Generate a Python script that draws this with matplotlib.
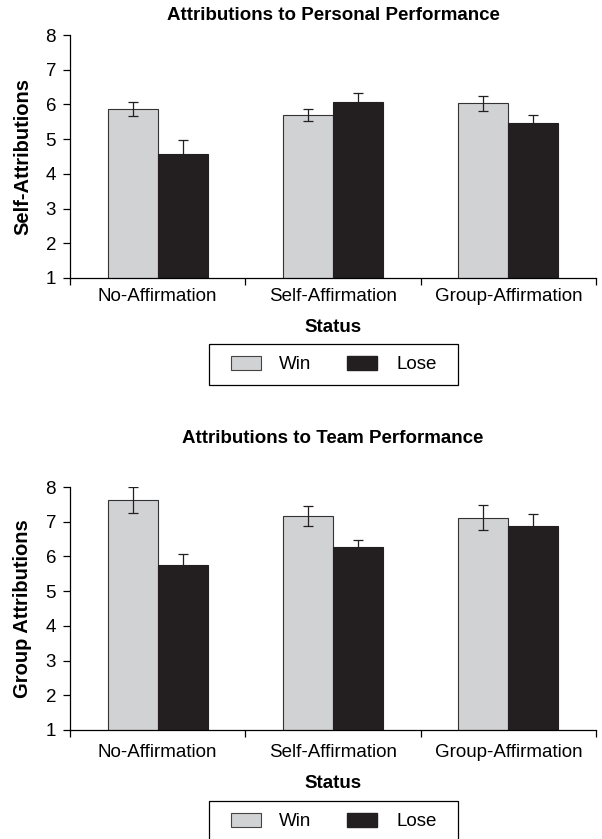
import numpy as np
import matplotlib.pyplot as plt
from matplotlib.patches import Patch, Rectangle

# --------------------

categories = ["No-Affirmation", "Self-Affirmation", "Group-Affirmation"]
groups = ["Win", "Lose"]

self_win = [5.87, 5.69, 6.03]
self_win_err = [0.19, 0.17, 0.21]
self_lose = [4.58, 6.08, 5.46]
self_lose_err = [0.40, 0.24, 0.24]

team_win = [7.62, 7.17, 7.12]
team_win_err = [0.38, 0.29, 0.37]
team_lose = [5.76, 6.26, 6.88]
team_lose_err = [0.32, 0.20, 0.33]

win_color = "#d1d2d4"
lose_color = "#231f20"

# --------------------

plt.rcParams["font.family"] = ["Liberation Sans", "DejaVu Sans"]

fig = plt.figure(figsize = (6.02, 8.39), dpi = 100)
W, H = 602, 839


def make_axes(left, top, right, bottom):
    return fig.add_axes([left / W, 1 - bottom / H, (right - left) / W, (bottom - top) / H])


def draw(ax, win, win_err, lose, lose_err, title, ylabel, title_y, label_pad):
    x = np.arange(len(categories))
    w = 0.285
    ekw = dict(ecolor = "#231f20", elinewidth = 0.9, capsize = 3.5, capthick = 0.9)
    ax.bar(x - w / 2, win, w, color = win_color, edgecolor = "#333333", linewidth = 0.8,
           yerr = win_err, error_kw = ekw)
    ax.bar(x + w / 2, lose, w, color = lose_color, edgecolor = lose_color, linewidth = 0.8,
           yerr = lose_err, error_kw = ekw)
    ax.set_ylim(1, 8)
    ax.set_xlim(-0.5, 2.5)
    ax.set_yticks(range(1, 9))
    ax.set_xticks(x)
    ax.set_xticklabels(categories, fontsize = 13.5)
    ax.set_xticks([-0.5, 0.5, 1.5, 2.5], minor = True)
    ax.tick_params(axis = "x", which = "major", length = 0, pad = label_pad)
    ax.tick_params(axis = "x", which = "minor", length = 5, width = 0.9, direction = "out")
    ax.tick_params(axis = "y", length = 5, width = 0.9, labelsize = 13.5, pad = 5)
    for s in ["top", "right"]:
        ax.spines[s].set_visible(False)
    for s in ["left", "bottom"]:
        ax.spines[s].set_linewidth(0.9)
    ax.set_ylabel(ylabel, fontsize = 14.5, fontweight = "bold")
    ax.yaxis.set_label_coords(-0.072, 0.5)
    fig.text(333 / W, 1 - title_y / H, title, ha = "center", va = "center",
             fontsize = 13.5, fontweight = "bold")


ax1 = make_axes(70, 35, 596, 278)
draw(ax1, self_win, self_win_err, self_lose, self_lose_err,
     "Attributions to Personal Performance", "Self-Attributions", 15, 7)

ax2 = make_axes(70, 487, 596, 730)
draw(ax2, team_win, team_win_err, team_lose, team_lose_err,
     "Attributions to Team Performance", "Group Attributions", 438, 10)

handles = [Patch(facecolor = win_color, edgecolor = "#444444", linewidth = 0.8),
           Patch(facecolor = lose_color, edgecolor = lose_color)]

# status title + legend box (y in pixels from the top)
for status_y, box_top in [(327, 344), (783, 801)]:
    fig.text(333 / W, 1 - status_y / H, "Status", ha = "center", va = "center",
             fontsize = 13.5, fontweight = "bold")
    fig.add_artist(Rectangle((209 / W, 1 - (box_top + 41) / H), 249 / W, 41 / H,
                             transform = fig.transFigure, facecolor = "none",
                             edgecolor = "black", linewidth = 0.9))
    fig.legend(handles, groups, loc = "center", bbox_to_anchor = (333.5 / W, 1 - (box_top + 20.5) / H),
               ncol = 2, fontsize = 13.5, frameon = False,
               handlelength = 1.6, handleheight = 0.8, columnspacing = 1.9,
               handletextpad = 1.0, borderpad = 0, borderaxespad = 0)

plt.savefig("out.png", dpi = 100)
